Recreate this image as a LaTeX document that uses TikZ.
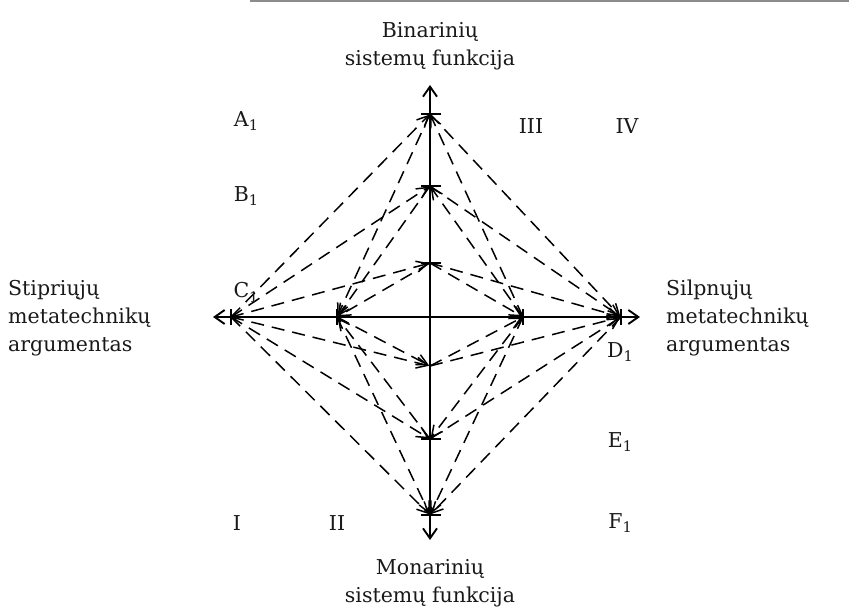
\documentclass[tikz,border=0pt]{standalone}
\usepackage{fontspec}
\setmainfont{DejaVu Serif}
\usetikzlibrary{arrows.meta}
\newcommand\lsub[1]{\raisebox{-0.45ex}{\fontsize{14.5}{14.5}\selectfont #1}}
\begin{document}
\begin{tikzpicture}[x=1pt,y=-1pt,
  axis/.style={line width=1.9pt, {Straight Barb[length=10pt,width=14pt,line width=1.9pt]}-{Straight Barb[length=10pt,width=14pt,line width=1.9pt]}},
  tick/.style={line width=1.9pt},
  dl/.style={line width=1.5pt, dash pattern=on 13pt off 8pt, -{Straight Barb[length=11pt,width=11pt,line width=1.5pt]}, shorten >=1pt},
  lbl/.style={font=\fontsize{20.5}{28}\selectfont, inner sep=0pt, text=black!90}]
\useasboundingbox (0,0) rectangle (849,615);
\draw[black!45, line width=2pt] (250,1) -- (849,1);
% axis points
\coordinate (T1) at (430,114);
\coordinate (T2) at (430,186);
\coordinate (T3) at (430,263);
\coordinate (B3) at (430,366);
\coordinate (B2) at (430,439);
\coordinate (B1) at (430,515);
\coordinate (L1) at (231,317);
\coordinate (L2) at (337,317);
\coordinate (R2) at (523,317);
\coordinate (R1) at (621,317);
\coordinate (Ytop) at (430,85);
\coordinate (Ybot) at (430,540);
\coordinate (Xl) at (213,317);
\coordinate (Xr) at (640,317);
% axes
\draw[axis] (Ybot) -- (Ytop);
\draw[axis] (Xl) -- (Xr);
% ticks
\foreach \p in {T1,T2,T3,B2,B1} \draw[tick] ([xshift=-9pt]\p) -- ([xshift=11pt]\p);
\foreach \p in {L1,L2,R2,R1} \draw[tick] ([yshift=-8pt]\p) -- ([yshift=8pt]\p);
% upper dashed connectors
\draw[dl] (L1) -- (T1);
\draw[dl] (L1) -- (T2);
\draw[dl] (L1) -- (T3);
\draw[dl] (T1) -- (L2);
\draw[dl] (T2) -- (L2);
\draw[dl] (T3) -- (L2);
\draw[dl] (R2) -- (T1);
\draw[dl] (R2) -- (T2);
\draw[dl] (T3) -- (R2);
\draw[dl] (T1) -- (R1);
\draw[dl] (T2) -- (R1);
\draw[dl] (T3) -- (R1);
% lower dashed connectors
\draw[dl] (L1) -- (B1);
\draw[dl] (L1) -- (B2);
\draw[dl] (L1) -- (B3);
\draw[dl] (L2) -- (B1);
\draw[dl] (B2) -- (L2);
\draw[dl] (L2) -- (B3);
\draw[dl] (R1) -- (B1);
\draw[dl] (B2) -- (R1);
\draw[dl] (B3) -- (R1);
\draw[dl] (R2) -- (B1);
\draw[dl] (R2) -- (B2);
\draw[dl] (B3) -- (R2);
% axis titles
\node[lbl, align=center] (bin) at (430,46) {Binarinių\\sistemų funkcija};
\node[lbl, align=center] (mon) at (430,583) {Monarinių\\sistemų funkcija};
\node[lbl, align=left, anchor=west] (stip) at (8,318) {Stipriųjų\\metatechnikų\\argumentas};
\node[lbl, align=left, anchor=west] (silp) at (666,318) {Silpnųjų\\metatechnikų\\argumentas};
% point labels
\node[lbl] (A1) at (246,121) {A\lsub{1}};
\node[lbl] (Bl) at (246,196) {B\lsub{1}};
\node[lbl] (C1) at (246,292) {C\lsub{1}};
\node[lbl] (D1) at (620,352) {D\lsub{1}};
\node[lbl] (E1) at (620,442) {E\lsub{1}};
\node[lbl] (F1) at (620,523) {F\lsub{1}};
\node[lbl] (q3) at (531,126) {III};
\node[lbl] (q4) at (627,126) {IV};
\node[lbl] (q1) at (237,523) {I};
\node[lbl] (q2) at (337,523) {II};
\end{tikzpicture}
\end{document}
